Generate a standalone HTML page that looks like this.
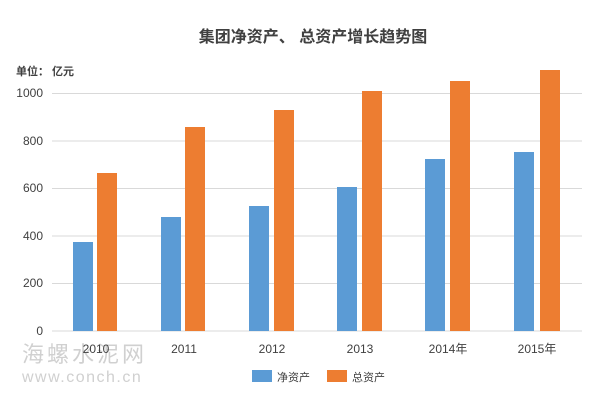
<!DOCTYPE html>
<html><head><meta charset="utf-8"><style>
body{margin:0;background:#fff}
svg{display:block;font-family:"Liberation Sans","Noto Sans CJK SC",sans-serif}
</style></head><body>
<svg width="600" height="400" viewBox="0 0 600 400">
<rect width="600" height="400" fill="#fff"/>
<text x="313" y="42" text-anchor="middle" font-size="16" font-weight="bold" fill="#404040">集团净资产、 总资产增长趋势图</text>
<text x="16" y="75" font-size="11" font-weight="bold" fill="#404040">单位： 亿元</text>
<g stroke="#d9d9d9" stroke-width="1">
<line x1="52" x2="582" y1="93.5" y2="93.5"/>
<line x1="52" x2="582" y1="141" y2="141"/>
<line x1="52" x2="582" y1="188.5" y2="188.5"/>
<line x1="52" x2="582" y1="236" y2="236"/>
<line x1="52" x2="582" y1="283.5" y2="283.5"/>
<line x1="52" x2="582" y1="331" y2="331"/>
</g>
<g font-size="12" fill="#404040" text-anchor="end">
<text x="43" y="97">1000</text>
<text x="43" y="145">800</text>
<text x="43" y="192">600</text>
<text x="43" y="240">400</text>
<text x="43" y="287">200</text>
<text x="43" y="335">0</text>
</g>
<g fill="#5b9bd5">
<rect x="73" y="242" width="20" height="89"/>
<rect x="161" y="217" width="20" height="114"/>
<rect x="249" y="206" width="20" height="125"/>
<rect x="337" y="187" width="20" height="144"/>
<rect x="425" y="159" width="20" height="172"/>
<rect x="514" y="152" width="20" height="179"/>
</g>
<g fill="#ed7d31">
<rect x="97" y="173" width="20" height="158"/>
<rect x="185" y="127" width="20" height="204"/>
<rect x="274" y="110" width="20" height="221"/>
<rect x="362" y="91" width="20" height="240"/>
<rect x="450" y="81" width="20" height="250"/>
<rect x="540" y="70" width="20" height="261"/>
</g>
<text x="22" y="362" font-size="22" fill="#d0d0d0" letter-spacing="3">海螺水泥网</text>
<text x="22" y="382" font-size="16" fill="#d0d0d0" letter-spacing="1.5">www.conch.cn</text>
<g font-size="12" fill="#404040" text-anchor="middle">
<text x="96" y="353">2010</text>
<text x="184" y="353">2011</text>
<text x="272" y="353">2012</text>
<text x="360" y="353">2013</text>
<text x="448" y="353">2014年</text>
<text x="537" y="353">2015年</text>
</g>
<rect x="252" y="370" width="20" height="12" fill="#5b9bd5"/>
<text x="277" y="381" font-size="11" fill="#404040">净资产</text>
<rect x="327" y="370" width="20" height="12" fill="#ed7d31"/>
<text x="352" y="381" font-size="11" fill="#404040">总资产</text>
</svg>
</body></html>
